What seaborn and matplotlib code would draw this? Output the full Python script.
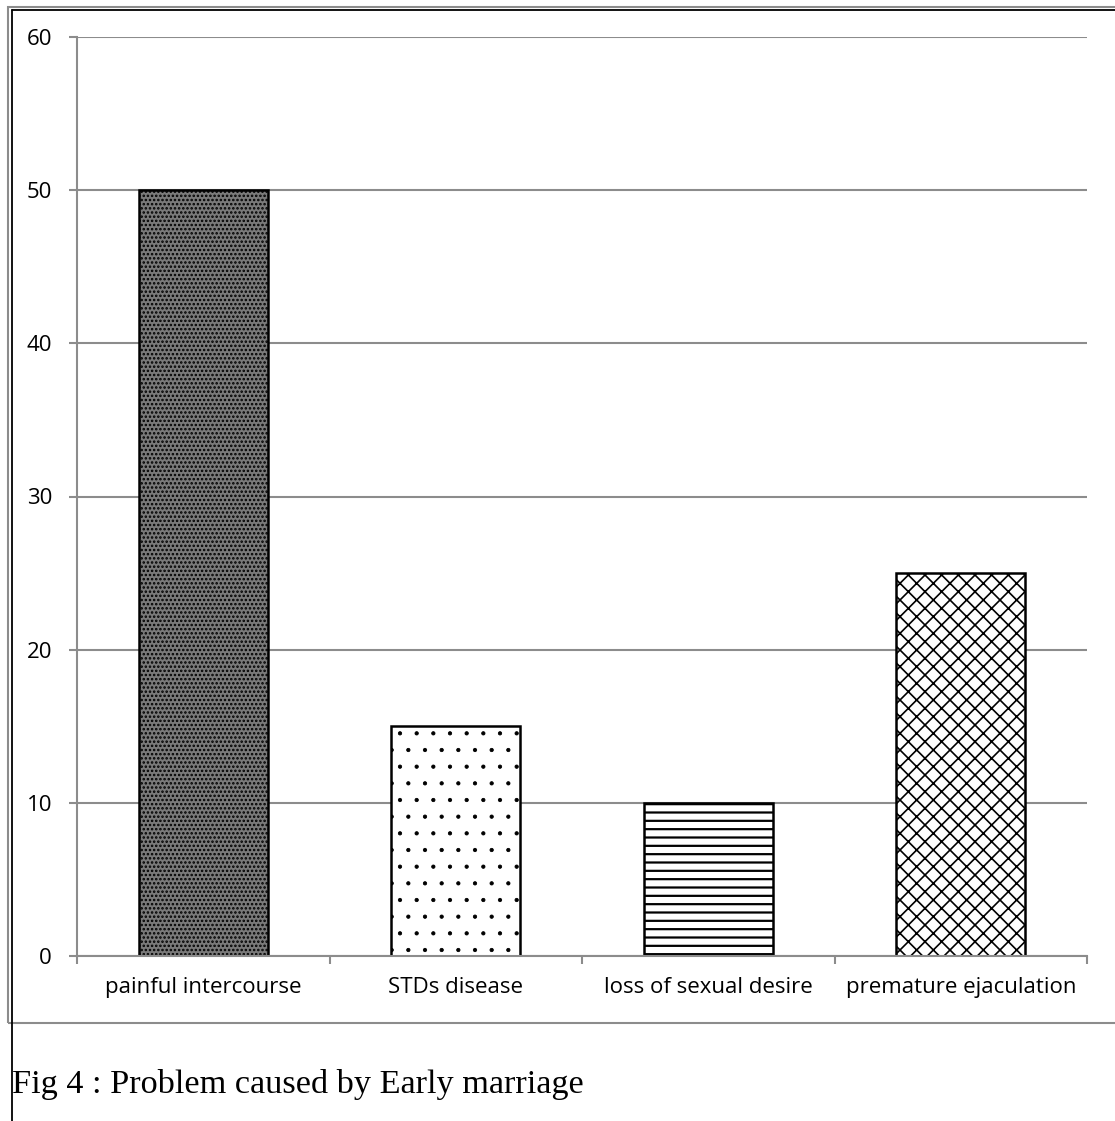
import matplotlib
matplotlib.use("Agg")
import matplotlib.pyplot as plt
import seaborn as sns
import pandas as pd
from matplotlib.lines import Line2D
from matplotlib.patches import Rectangle

categories = ["painful intercourse", "STDs disease", "loss of sexual desire", "premature ejaculation"]
values = [50, 15, 10, 25]
y_ticks = [0, 10, 20, 30, 40, 50, 60]
caption = "Fig 4 : Problem caused by Early marriage"

sns.set_theme(style="white")
plt.rcParams["font.family"] = ["Open Sans", "DejaVu Sans"]
plt.rcParams["hatch.linewidth"] = 1.2

df = pd.DataFrame({"category": categories, "value": values})

fig = plt.figure(figsize=(11.15, 11.21), dpi=100)
ax = fig.add_axes([77 / 1115, 165 / 1121, 1010 / 1115, 919 / 1121])

sns.barplot(data=df, x="category", y="value", hue="category", palette=["white"] * 4,
            width=0.51, legend=False, ax=ax, zorder=3)

styles = [("#7a7a7a", "...."), ("white", "."), ("white", "--"), ("white", "xx")]
hatch_lw = [1.2, 0.6, 1.6, 1.2]
for patch, (fc, h), lw in zip(ax.patches, styles, hatch_lw):
    patch.set_facecolor(fc)
    patch.set_hatch(h)
    patch.set_edgecolor("black")
    patch.set_linewidth(1.8)
    try:
        patch.set_hatch_linewidth(lw)
    except AttributeError:
        pass

ax.set_ylim(0, 60)
ax.set_xlim(-0.5, len(categories) - 0.5)
ax.set_yticks(y_ticks)
ax.set_xlabel("")
ax.set_ylabel("")
ax.yaxis.grid(True, color="#8c8c8c", linewidth=1.5, zorder=0)
ax.set_axisbelow(True)
for s in ["top", "right"]:
    ax.spines[s].set_visible(False)
ax.spines["left"].set_color("#8c8c8c")
ax.spines["left"].set_linewidth(1.5)
ax.spines["bottom"].set_color("#8c8c8c")
ax.spines["bottom"].set_linewidth(1.5)
ax.spines["bottom"].set_zorder(4)

ax.tick_params(axis="y", which="major", length=6, width=1.5, color="#8c8c8c",
               direction="out", left=True, pad=12, labelsize=16, labelcolor="black")
ax.set_xticks([i - 0.5 for i in range(len(categories) + 1)], minor=True)
ax.tick_params(axis="x", which="minor", length=6, width=1.5, color="#8c8c8c",
               direction="out", bottom=True)
ax.tick_params(axis="x", which="major", length=0, pad=15, labelsize=16, labelcolor="black")

# outer chart frame (gray) and black page lines
fig.add_artist(Rectangle((8 / 1115, 1 - 1023 / 1121), 1.2, (1023 - 7) / 1121,
                         transform=fig.transFigure, fill=False,
                         edgecolor="#8c8c8c", linewidth=1.5, clip_on=False))
fig.add_artist(Line2D([11.5 / 1115, 11.5 / 1115], [0, 1 - 9.5 / 1121],
                      transform=fig.transFigure, color="black", linewidth=1.3))
fig.add_artist(Line2D([11.5 / 1115, 1], [1 - 9.5 / 1121, 1 - 9.5 / 1121],
                      transform=fig.transFigure, color="black", linewidth=1.3))

fig.text(12 / 1115, 1 - 1085 / 1121, caption, fontsize=24.7,
         family=["Liberation Serif", "DejaVu Serif"], va="center", ha="left", color="black")

fig.savefig("out.png", dpi=100, facecolor="white")
